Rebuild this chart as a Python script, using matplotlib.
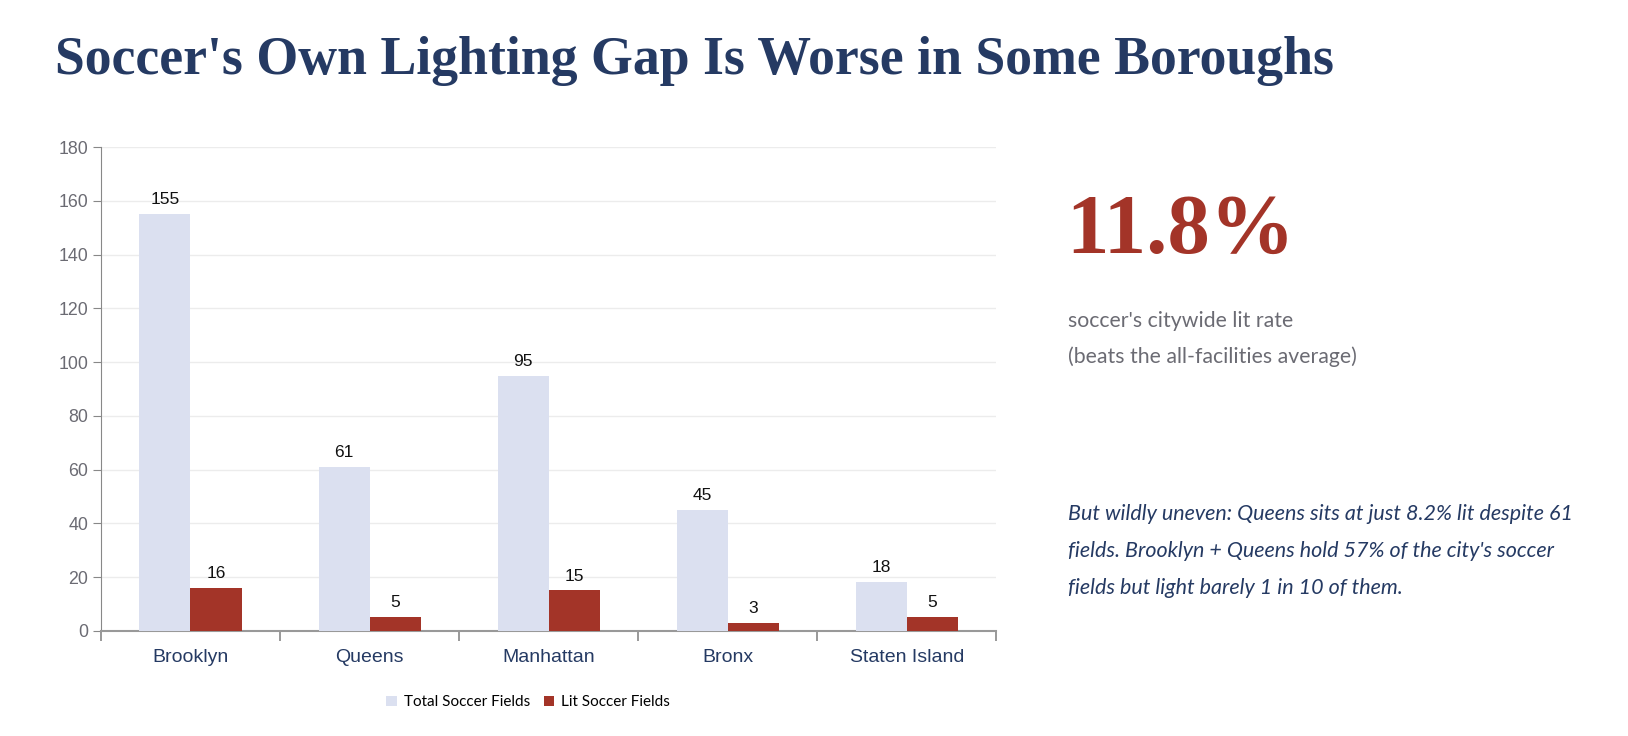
import numpy as np
import matplotlib.pyplot as plt

boroughs = ['Brooklyn', 'Queens', 'Manhattan', 'Bronx', 'Staten Island']
total_fields = [155, 61, 95, 45, 18]
lit_fields = [16, 5, 15, 3, 5]
y_ticks = [0, 20, 40, 60, 80, 100, 120, 140, 160, 180]

NAVY = '#253a63'
RED = '#a33428'
LIGHT = '#dbe0f0'
GREY = '#6b6b73'

fig = plt.figure(figsize=(16.28, 7.36), dpi=100)
ax = fig.add_axes([0.062, 0.143, 0.550, 0.657])

x = np.arange(len(boroughs))
w = 0.285
b1 = ax.bar(x - w / 2, total_fields, w, color=LIGHT, label='Total Soccer Fields', zorder=3)
b2 = ax.bar(x + w / 2, lit_fields, w, color=RED, label='Lit Soccer Fields', zorder=3)
for bars in (b1, b2):
    ax.bar_label(bars, padding=5, fontsize=12.5, family='Liberation Sans', color='#111111')

ax.set_xlim(-0.5, len(boroughs) - 0.5)
ax.set_ylim(0, 180)
ax.set_yticks(y_ticks)
ax.grid(axis='y', color='#ececec', lw=1, zorder=0)
ax.set_xticks(x)
ax.set_xticklabels(boroughs, fontsize=14, family='Liberation Sans', color=NAVY)
ax.set_xticks(np.arange(-0.5, len(boroughs)), minor=True)
ax.tick_params(axis='x', which='major', length=0, pad=13)
ax.tick_params(axis='x', which='minor', length=7, color='#888888', width=1.2)
ax.tick_params(axis='y', length=6, color='#888888', labelsize=12.8, labelcolor=GREY, pad=3)
for lab in ax.get_yticklabels():
    lab.set_family('Liberation Sans')
for side in ('top', 'right'):
    ax.spines[side].set_visible(False)
ax.spines['left'].set_color('#888888')
ax.spines['bottom'].set_color('#999999')
ax.spines['bottom'].set_linewidth(1.5)

# legend sits a little left of the axes centre in the original
leg = ax.legend(loc='upper center', bbox_to_anchor=(0.477, -0.105), ncol=2, frameon=False,
                handlelength=0.7, handleheight=0.7, handletextpad=0.45, columnspacing=0.9,
                prop={'family': 'Lato', 'size': 11})

fig.text(0.0335, 0.90, "Soccer's Own Lighting Gap Is Worse in Some Boroughs",
         family='Liberation Serif', weight='bold', fontsize=38.7, color=NAVY, va='baseline')

fig.text(0.655, 1 - 253 / 736, '11.8%', family='Liberation Serif', weight='bold',
         fontsize=61, color=RED, va='baseline')
fig.text(0.656, 1 - 327 / 736, "soccer's citywide lit rate", family='Lato',
         fontsize=15.3, color=GREY, va='baseline')
fig.text(0.656, 1 - 363 / 736, '(beats the all-facilities average)', family='Lato',
         fontsize=15.3, color=GREY, va='baseline')

note = ["But wildly uneven: Queens sits at just 8.2% lit despite 61",
        "fields. Brooklyn + Queens hold 57% of the city's soccer",
        "fields but light barely 1 in 10 of them."]
for i, line in enumerate(note):
    fig.text(0.656, 1 - (520 + 37 * i) / 736, line, family='Lato', style='italic',
             fontsize=15.5, color=NAVY, va='baseline')

fig.savefig('out.png', dpi=100, facecolor='white')
